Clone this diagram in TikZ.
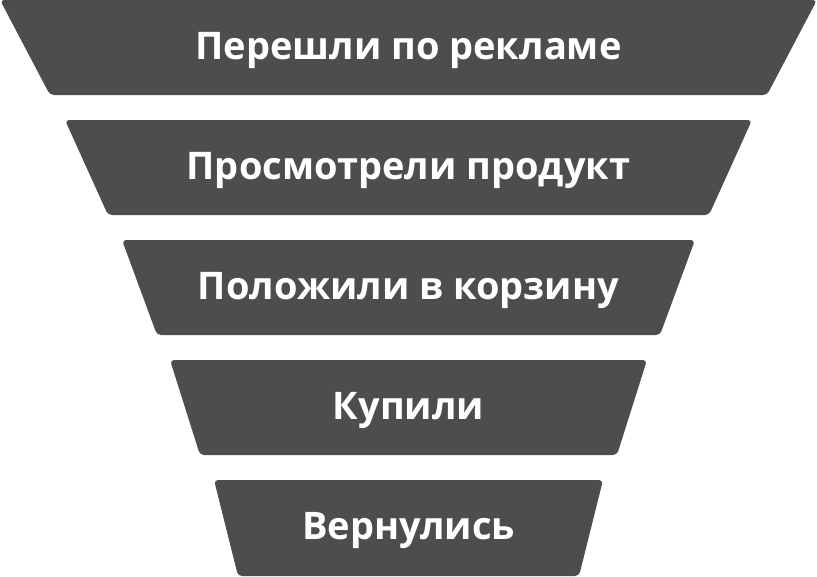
\documentclass[tikz,border=0pt]{standalone}
\usepackage{fontspec}
\setmainfont{Open Sans}
\definecolor{funnel}{HTML}{4D4D4D}
\begin{document}
\begin{tikzpicture}[x=1pt,y=-1pt,
  seg/.style={fill=funnel,rounded corners=4pt},
  lbl/.style={text=white,font=\fontsize{38}{44}\selectfont\bfseries,inner sep=0pt,anchor=base}]
\useasboundingbox (0,0) rectangle (817,576);
\fill[seg] (0,0) -- (817,0) -- (767,95) -- (50,95) -- cycle;
\fill[seg] (65,120) -- (752,120) -- (709,215) -- (108,215) -- cycle;
\fill[seg] (122,240) -- (695,240) -- (660,335) -- (157,335) -- cycle;
\fill[seg] (170,360) -- (647,360) -- (617,455) -- (200,455) -- cycle;
\fill[seg] (214,480) -- (603,480) -- (579,576) -- (238,576) -- cycle;
\node[lbl] (t1) at (408.5,59) {Перешли по рекламе};
\node[lbl] (t2) at (408.5,179) {Просмотрели продукт};
\node[lbl] (t3) at (408.5,299) {Положили в корзину};
\node[lbl] (t4) at (408.5,419) {Купили};
\node[lbl] (t5) at (408.5,539) {Вернулись};
\end{tikzpicture}
\end{document}
